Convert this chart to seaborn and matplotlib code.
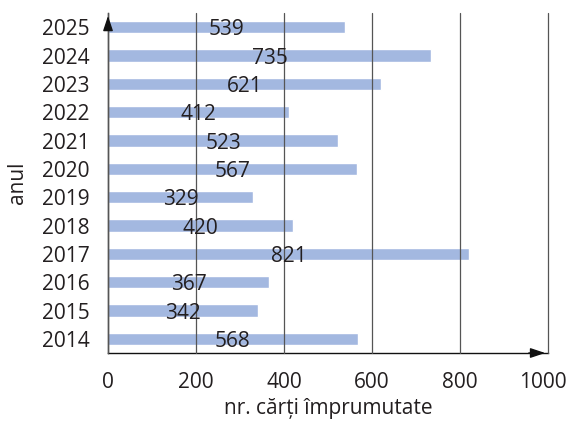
import matplotlib
matplotlib.use("Agg")
import matplotlib.pyplot as plt
import matplotlib.transforms as mtransforms
import seaborn as sns
import pandas as pd

years = ["2014", "2015", "2016", "2017", "2018", "2019", "2020", "2021", "2022", "2023", "2024", "2025"]
values = [568, 342, 367, 821, 420, 329, 567, 523, 412, 621, 735, 539]
x_ticks = [0, 200, 400, 600, 800, 1000]
x_label = "nr. cărți împrumutate"
y_label = "anul"

sns.set_style("white")
plt.rcParams['font.family'] = ['Open Sans', 'DejaVu Sans']
FS = 15
TXT = "#231f20"

df = pd.DataFrame({"year": years, "value": values})
order = years[::-1]

fig = plt.figure(figsize=(5.7, 4.22), dpi=100)
ax = fig.add_axes([0.1895, 0.1635, 0.7719, 0.8055])

sns.barplot(data=df, x="value", y="year", order=order, orient="h",
            color="#a3b8e0", saturation=1, width=0.43, ax=ax, zorder=1)

labels = ax.bar_label(ax.containers[0], labels=[str(v) for v in df.set_index("year").loc[order, "value"]],
                      label_type="center", fontsize=FS, color=TXT, zorder=4)
for t in labels:
    t.set_va("center_baseline")

ax.set_xlim(0, 1000)
ax.set_ylim(len(years) - 0.5, -0.5)
ax.set_xticks(x_ticks)
ax.set_xticklabels([str(t) for t in x_ticks], fontsize=FS, color=TXT)
ax.tick_params(axis="x", direction="out", length=6.5, width=0.9, color="#555555", pad=7)
last = ax.get_xticklabels()[-1]
last.set_transform(last.get_transform() + mtransforms.ScaledTranslation(-4 / 72, 0, fig.dpi_scale_trans))
ax.set_yticks(range(len(years)))
ax.set_yticklabels(order, fontsize=FS, color=TXT)
ax.tick_params(axis="y", which="major", length=0, pad=13)
ax.set_yticks([i - 0.5 for i in range(len(years) + 1)], minor=True)
ax.tick_params(axis="y", which="minor", direction="out", length=5, width=0.9, color="#444444")

ax.set_axisbelow(False)
ax.grid(axis="x", color="#555555", linewidth=0.9, zorder=2)
ax.grid(axis="y", visible=False)
for gl in ax.xaxis.get_gridlines():
    gl.set_clip_on(False)

for s in ["top", "right"]:
    ax.spines[s].set_visible(False)
for s in ["left", "bottom"]:
    ax.spines[s].set_color("#111111")
    ax.spines[s].set_linewidth(1.0)

# arrow heads
ax.annotate("", xy=(0, 1.0), xycoords="axes fraction", xytext=(0, 0.95),
            arrowprops=dict(arrowstyle="-|>,head_length=0.9,head_width=0.3", color="#111111", lw=1.0),
            annotation_clip=False, zorder=5)
ax.annotate("", xy=(1.0, 0), xycoords="axes fraction", xytext=(0.95, 0),
            arrowprops=dict(arrowstyle="-|>,head_length=0.9,head_width=0.3", color="#111111", lw=1.0),
            annotation_clip=False, zorder=5)

ax.set_xlabel(x_label, fontsize=FS, color=TXT, labelpad=4)
ax.set_ylabel(y_label, fontsize=FS, color=TXT, labelpad=10)

fig.savefig("out.png", dpi=100)
